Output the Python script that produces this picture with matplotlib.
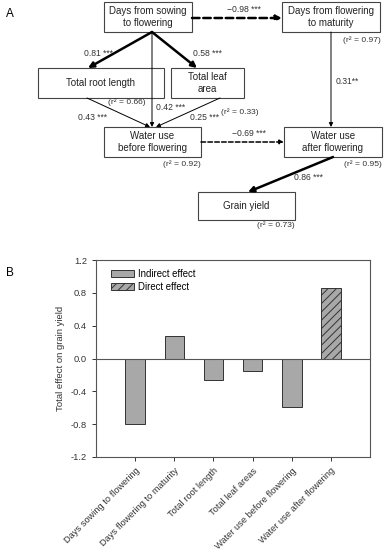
import matplotlib.pyplot as plt
from matplotlib.patches import Rectangle

plt.rcParams['font.family'] = ['Liberation Sans', 'DejaVu Sans']
plt.rcParams['hatch.linewidth'] = 0.7

# Panel A: path diagram content
box_labels = ['Days from sowing\nto flowering', 'Days from flowering\nto maturity',
              'Total root length', 'Total leaf\narea',
              'Water use\nbefore flowering', 'Water use\nafter flowering', 'Grain yield']
box_r2 = [None, '0.97', '0.66', '0.33', '0.92', '0.95', '0.73']
path_coefs = ['0.81 ***', '0.58 ***', '0.42 ***', '0.43 ***', '0.25 ***',
              '\u22120.98 ***', '0.31**', '\u22120.69 ***', '0.86 ***']

# Panel B: bar data
categories = ['Days sowing to flowering', 'Days flowering to maturity', 'Total root length',
              'Total leaf areas', 'Water use before flowering', 'Water use after flowering']
effects = [-0.80, 0.27, -0.26, -0.15, -0.59, 0.86]
effect_type = ['Indirect', 'Indirect', 'Indirect', 'Indirect', 'Indirect', 'Direct']
yticks = [-1.2, -0.8, -0.4, 0.0, 0.4, 0.8, 1.2]

# layout (pixel coords) for the diagram boxes: x0, y0, x1, y1
box_pos = [(104, 2, 192, 32), (282, 2, 380, 32), (38, 68, 164, 98), (171, 68, 244, 98),
           (104, 127, 201, 157), (284, 127, 382, 157), (198, 192, 295, 220)]
r2_pos = [None, (381, 40), (146, 102), (259, 112), (201, 164), (382, 164), (295, 225)]

fig = plt.figure(figsize=(3.88, 5.5), dpi=100)

# ---- Panel A ----
axA = fig.add_axes([0, 0, 1, 1])
axA.set_xlim(0, 388)
axA.set_ylim(550, 0)
axA.axis('off')

for lab, (x0, y0, x1, y1) in zip(box_labels, box_pos):
    axA.add_patch(Rectangle((x0, y0), x1 - x0, y1 - y0, fill=False, lw=0.8, ec='#444444'))
    axA.text((x0 + x1) / 2, (y0 + y1) / 2, lab, ha='center', va='center',
             fontsize=7, linespacing=1.15, color='#222222')

for r2, pos in zip(box_r2, r2_pos):
    if r2 is not None:
        axA.text(pos[0], pos[1], f'(r\u00b2 = {r2})', ha='right', va='center',
                 fontsize=6.1, color='#333333')


def arrow(p0, p1, lw, ls='-', scale=7):
    axA.annotate('', xy=p1, xytext=p0,
                 arrowprops=dict(arrowstyle='-|>', lw=lw, ls=ls, color='black',
                                 mutation_scale=scale, shrinkA=0, shrinkB=0))


arrow((152, 32), (88, 68), 1.8, scale=8)
arrow((152, 32), (197, 68), 1.8, scale=8)
arrow((152, 32), (152, 127), 0.7, scale=6)
arrow((87, 98), (150, 127), 0.7, scale=6)
arrow((220, 98), (156, 127), 0.7, scale=6)
arrow((192, 18), (282, 18), 1.8, ls=(0, (3, 1.5)), scale=8)
arrow((331, 32), (331, 127), 0.7, scale=6)
arrow((201, 142), (284, 142), 1.1, ls=(0, (3, 1.5)), scale=6)
arrow((333, 157), (248, 192), 1.8, scale=8)

coef_pos = [(98, 53), (207, 53), (171, 108), (92, 117), (205, 117),
            (244, 9), (347, 82), (249, 133), (308, 178)]
for c, (x, y) in zip(path_coefs, coef_pos):
    axA.text(x, y, c, ha='center', va='center', fontsize=6.2, color='#333333')

axA.text(10, 14, 'A', fontsize=8.5, ha='center', va='center')
axA.text(10, 273, 'B', fontsize=8.5, ha='center', va='center')

# ---- Panel B ----
axB = fig.add_axes([96 / 388, 1 - 457 / 550, 274 / 388, 197 / 550])
xs = list(range(1, len(categories) + 1))
for x, v, t in zip(xs, effects, effect_type):
    if t == 'Indirect':
        axB.bar(x, v, width=0.5, color='#a8a8a8', edgecolor='#333333', lw=0.7)
    else:
        axB.bar(x, v, width=0.5, color='#a8a8a8', edgecolor='#333333', lw=0.7, hatch='////')
axB.axhline(0, color='#555555', lw=0.8)
axB.set_xlim(0, 7)
axB.set_ylim(-1.2, 1.2)
axB.set_yticks(yticks)
axB.set_yticklabels([f'{t:.1f}' for t in yticks])
axB.set_xticks(xs)
axB.set_xticklabels(categories, rotation=45, ha='right', rotation_mode='anchor')
axB.tick_params(axis='both', labelsize=6.7, length=3, width=0.7, colors='#333333')
axB.set_ylabel('Total effect on grain yield', fontsize=6.8, color='#333333', labelpad=4)
for s in axB.spines.values():
    s.set_linewidth(0.8)
    s.set_color('#555555')

# legend
h1 = Rectangle((0, 0), 1, 1, fc='#a8a8a8', ec='#333333', lw=0.7)
h2 = Rectangle((0, 0), 1, 1, fc='#a8a8a8', ec='#333333', lw=0.7, hatch='////')
axB.legend([h1, h2], ['Indirect effect', 'Direct effect'], loc='upper left',
           bbox_to_anchor=(0.025, 1.0), frameon=False, fontsize=6.9,
           handlelength=2.3, handleheight=0.8, labelspacing=0.35, handletextpad=0.45)

fig.savefig('out.png', dpi=100)
